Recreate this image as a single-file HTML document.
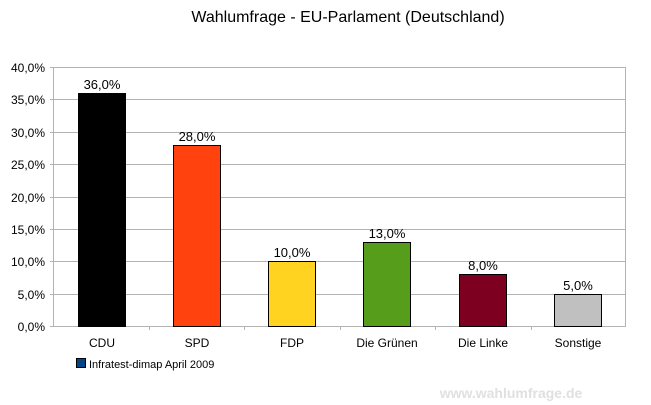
<!DOCTYPE html>
<html><head><meta charset="utf-8"><style>
body{margin:0;background:#fff;}
svg{display:block;font-family:"Liberation Sans",sans-serif;}
</style></head><body>
<svg width="651" height="405" viewBox="0 0 651 405">
<text x="348" y="22" font-size="16" text-anchor="middle">Wahlumfrage - EU-Parlament (Deutschland)</text>
<g stroke="#b3b3b3" stroke-width="1">
<line x1="50" x2="626" y1="67.5" y2="67.5"/>
<line x1="50" x2="626" y1="99.5" y2="99.5"/>
<line x1="50" x2="626" y1="132.5" y2="132.5"/>
<line x1="50" x2="626" y1="164.5" y2="164.5"/>
<line x1="50" x2="626" y1="197.5" y2="197.5"/>
<line x1="50" x2="626" y1="229.5" y2="229.5"/>
<line x1="50" x2="626" y1="261.5" y2="261.5"/>
<line x1="50" x2="626" y1="294.5" y2="294.5"/>
<line x1="50" x2="626" y1="326.5" y2="326.5"/>
<line x1="53.5" x2="53.5" y1="67" y2="326"/>
<line x1="625.5" x2="625.5" y1="67" y2="326"/>
<line x1="149.5" x2="149.5" y1="326" y2="330"/>
<line x1="244.5" x2="244.5" y1="326" y2="330"/>
<line x1="340.5" x2="340.5" y1="326" y2="330"/>
<line x1="435.5" x2="435.5" y1="326" y2="330"/>
<line x1="531.5" x2="531.5" y1="326" y2="330"/>
</g>
<g font-size="12" text-anchor="end">
<text x="45" y="72">40,0%</text><text x="45" y="104">35,0%</text><text x="45" y="137">30,0%</text>
<text x="45" y="169">25,0%</text><text x="45" y="202">20,0%</text><text x="45" y="234">15,0%</text>
<text x="45" y="266">10,0%</text><text x="45" y="299">5,0%</text><text x="45" y="331">0,0%</text>
</g>
<g stroke="#000" stroke-width="1">
<rect x="78.5" y="93.5" width="47" height="233" fill="#000"/>
<rect x="173.5" y="145.5" width="47" height="181" fill="#ff420e"/>
<rect x="268.5" y="261.5" width="47" height="65" fill="#ffd320"/>
<rect x="363.5" y="242.5" width="47" height="84" fill="#579d1c"/>
<rect x="459.5" y="274.5" width="47" height="52" fill="#7e0021"/>
<rect x="554.5" y="294.5" width="47" height="32" fill="#c0c0c0"/>
</g>
<g font-size="13" text-anchor="middle">
<text x="102" y="89">36,0%</text><text x="197" y="141">28,0%</text><text x="292" y="257">10,0%</text>
<text x="387" y="238">13,0%</text><text x="483" y="270">8,0%</text><text x="578" y="290">5,0%</text>
</g>
<g font-size="12" text-anchor="middle">
<text x="102" y="347">CDU</text><text x="197" y="347">SPD</text><text x="292" y="347">FDP</text>
<text x="387" y="347">Die Grünen</text><text x="483" y="347">Die Linke</text><text x="578" y="347">Sonstige</text>
</g>
<rect x="76.5" y="358.5" width="9" height="9" fill="#004586" stroke="#000"/>
<text x="89" y="368" font-size="11">Infratest-dimap April 2009</text>
<text x="511" y="398" font-size="14" font-weight="bold" fill="#e0e0e0" text-anchor="middle">www.wahlumfrage.de</text>
</svg>
</body></html>
